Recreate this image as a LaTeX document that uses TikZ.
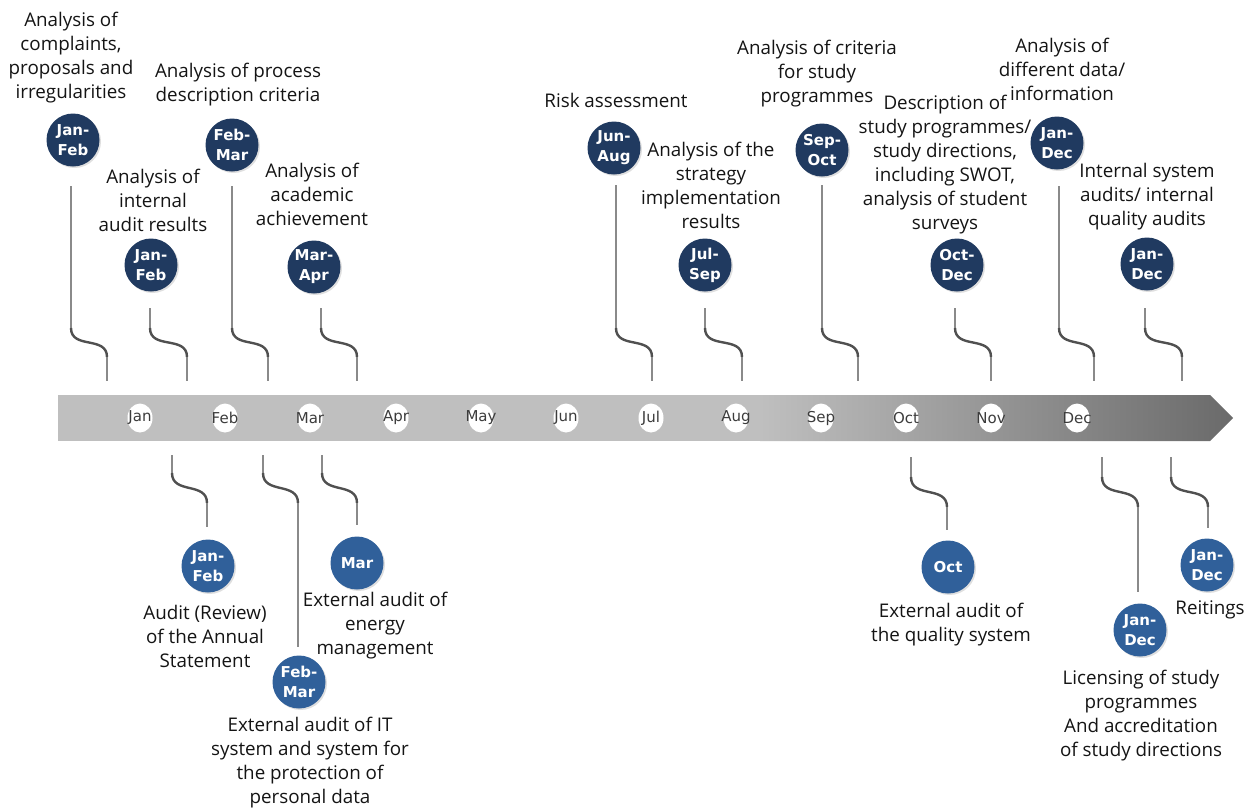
\documentclass[tikz,border=0pt]{standalone}
\usepackage{fontspec}
\setmainfont{Open Sans}
\newfontfamily\circfont{DejaVu Sans}
\usetikzlibrary{shadows,shapes.geometric}
\definecolor{navy}{HTML}{203A60}
\definecolor{bluec}{HTML}{30609A}
\definecolor{barlight}{HTML}{BFBFBF}
\definecolor{bardark}{HTML}{6A6A6A}
\definecolor{thinline}{HTML}{8A8A8A}
\definecolor{curveline}{HTML}{505050}
\definecolor{monthtxt}{HTML}{3C3C3C}
\definecolor{txt}{HTML}{141414}
\tikzset{
  topdot/.style={circle, fill=navy, minimum size=53pt, inner sep=0pt, text=white,
    font=\circfont\bfseries\fontsize{15}{20}\selectfont, align=center,
    drop shadow={opacity=0.25, shadow xshift=1.5pt, shadow yshift=-1.5pt}},
  botdot/.style={topdot, fill=bluec},
  desc/.style={align=center, text=txt, font=\fontsize{18.8}{24}\selectfont, inner sep=0pt},
  conn/.style={draw=thinline, line width=1.4pt},
  wavy/.style={draw=curveline, line width=2.4pt, out=-90, in=90, looseness=1.2},
  monthdot/.style={ellipse, fill=white, minimum width=25pt, minimum height=29pt, inner sep=0pt},
  monthlbl/.style={font=\circfont\fontsize{15}{15}\selectfont, text=monthtxt}
}
\begin{document}
\begin{tikzpicture}[x=1pt,y=-1pt]
\useasboundingbox (0,0) rectangle (1246,807);
% bar
\begin{scope}
\clip (58,395) -- (1210,395) -- (1233,418) -- (1210,441) -- (58,441) -- cycle;
\fill[barlight] (58,395) rectangle (762,441);
\shade[left color=barlight, right color=bardark] (760,395) rectangle (1234,441);
\end{scope}
% months
\foreach \m/\x in {Jan/140,Feb/225,Mar/310,Apr/396,May/481,Jun/566,Jul/651,Aug/736,Sep/821,Oct/906,Nov/991,Dec/1077}{
  \node[monthdot, label={[monthlbl]center:\m}] (m\m) at (\x,418) {};
}
% ---------- top items ----------
% 1
\node[topdot] (c1) at (73,140) {Jan-\\Feb};
\node[desc] (d1) at (71,58) {Analysis of\\complaints,\\proposals and\\irregularities};
\coordinate (c1a) at (71,186); \coordinate (c1b) at (71,328);
\coordinate (c1c) at (107,357); \coordinate (c1d) at (107,381);
% 2
\node[topdot] (c2) at (151,265) {Jan-\\Feb};
\node[desc] (d2) at (153,200) {Analysis of\\internal\\audit results};
\coordinate (c2a) at (150,308); \coordinate (c2b) at (150,328);
\coordinate (c2c) at (187,357); \coordinate (c2d) at (187,381);
% 3
\node[topdot] (c3) at (232,145) {Feb-\\Mar};
\node[desc] (d3) at (238,85) {Analysis of process\\description criteria};
\coordinate (c3a) at (232,186); \coordinate (c3b) at (232,328);
\coordinate (c3c) at (268,357); \coordinate (c3d) at (268,381);
% 4
\node[topdot] (c4) at (314,267) {Mar-\\Apr};
\node[desc] (d4) at (312,194) {Analysis of\\academic\\achievement};
\coordinate (c4a) at (321,308); \coordinate (c4b) at (321,328);
\coordinate (c4c) at (357,357); \coordinate (c4d) at (357,381);
% 5
\node[topdot] (c5) at (614,148) {Jun-\\Aug};
\node[desc] (d5) at (616,100) {Risk assessment};
\coordinate (c5a) at (616,185); \coordinate (c5b) at (616,328);
\coordinate (c5c) at (652,357); \coordinate (c5d) at (652,381);
% 6
\node[topdot] (c6) at (705,265) {Jul-\\Sep};
\node[desc] (d6) at (711,185) {Analysis of the\\strategy\\implementation\\results};
\coordinate (c6a) at (705,308); \coordinate (c6b) at (705,328);
\coordinate (c6c) at (742,357); \coordinate (c6d) at (742,381);
% 7
\node[topdot] (c7) at (822,150) {Sep-\\Oct};
\node[desc] (d7) at (817,74) {Analysis of criteria\\for study\\programmes};
\coordinate (c7a) at (822,185); \coordinate (c7b) at (822,328);
\coordinate (c7c) at (858,357); \coordinate (c7d) at (858,381);
% 8
\node[topdot] (c8) at (957,265) {Oct-\\Dec};
\node[desc] (d8) at (945,165) {Description of\\study programmes/\\study directions,\\including SWOT,\\analysis of student\\surveys};
\coordinate (c8a) at (955,308); \coordinate (c8b) at (955,328);
\coordinate (c8c) at (991,357); \coordinate (c8d) at (991,381);
% 9
\node[topdot] (c9) at (1057,143) {Jan-\\Dec};
\node[desc] (d9) at (1062,69) {Analysis of\\different data/\\information};
\coordinate (c9a) at (1059,186); \coordinate (c9b) at (1059,328);
\coordinate (c9c) at (1094,357); \coordinate (c9d) at (1094,381);
% 10
\node[topdot] (c10) at (1147,264) {Jan-\\Dec};
\node[desc] (d10) at (1147,197) {Internal system\\audits/ internal\\quality audits};
\coordinate (c10a) at (1145,308); \coordinate (c10b) at (1145,328);
\coordinate (c10c) at (1182,357); \coordinate (c10d) at (1182,381);
\foreach \i in {1,...,10}{
  \draw[conn] (c\i a) -- (c\i b);
  \draw[wavy] (c\i b) to (c\i c);
  \draw[conn] (c\i c) -- (c\i d);
}
% ---------- bottom items ----------
% B1
\node[botdot] (b1) at (208,566) {Jan-\\Feb};
\node[desc] (e1) at (205,636) {Audit (Review)\\of the Annual\\Statement};
\coordinate (b1a) at (172,455); \coordinate (b1b) at (172,473);
\coordinate (b1c) at (207,503); \coordinate (b1d) at (207,527);
% B2
\node[botdot] (b2) at (299,682) {Feb-\\Mar};
\node[desc] (e2) at (310,763) {External audit of IT\\system and system for\\the protection of\\personal data};
\coordinate (b2a) at (263,455); \coordinate (b2b) at (263,473);
\coordinate (b2c) at (298,503); \coordinate (b2d) at (298,647);
% B3
\node[botdot] (b3) at (357,563) {Mar};
\node[desc] (e3) at (375,626) {External audit of\\energy\\management};
\coordinate (b3a) at (322,455); \coordinate (b3b) at (322,473);
\coordinate (b3c) at (357,503); \coordinate (b3d) at (357,525);
% B4
\node[botdot] (b4) at (948,567) {Oct};
\node[desc] (e4) at (951,625) {External audit of\\the quality system};
\coordinate (b4a) at (911,457); \coordinate (b4b) at (911,477);
\coordinate (b4c) at (947,507); \coordinate (b4d) at (947,530);
% B5
\node[botdot] (b5) at (1140,630) {Jan-\\Dec};
\node[desc] (e5) at (1141,716) {Licensing of study\\programmes\\And accreditation\\of study directions};
\coordinate (b5a) at (1102,457); \coordinate (b5b) at (1102,477);
\coordinate (b5c) at (1138,507); \coordinate (b5d) at (1138,592);
% B6
\node[botdot] (b6) at (1207,565) {Jan-\\Dec};
\node[desc] (e6) at (1210,610) {Reitings};
\coordinate (b6a) at (1171,457); \coordinate (b6b) at (1171,477);
\coordinate (b6c) at (1208,507); \coordinate (b6d) at (1208,528);
\foreach \i in {1,...,6}{
  \draw[conn] (b\i a) -- (b\i b);
  \draw[wavy] (b\i b) to (b\i c);
  \draw[conn] (b\i c) -- (b\i d);
}
\end{tikzpicture}
\end{document}
